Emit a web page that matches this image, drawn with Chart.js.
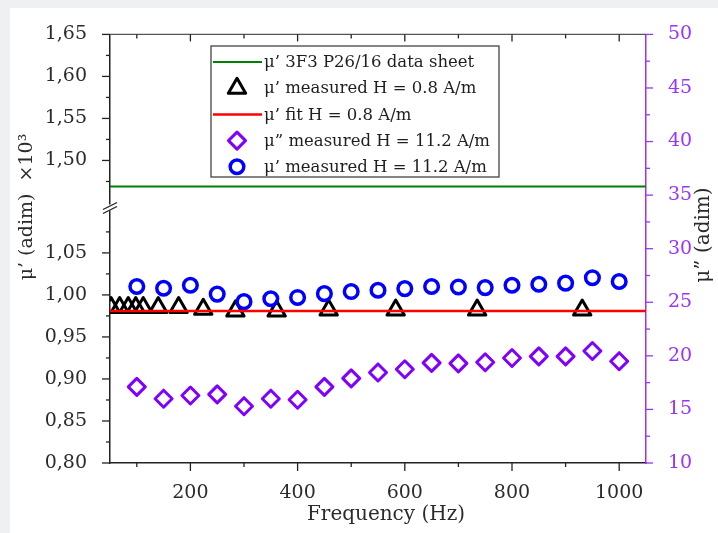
<!DOCTYPE html>
<html><head><meta charset="utf-8">
<script src="https://cdn.jsdelivr.net/npm/chart.js@4/dist/chart.umd.min.js"></script>
<style>
html,body{margin:0;padding:0;background:#fff;width:718px;height:533px;overflow:hidden}
#gl{position:absolute;left:0;top:0;width:10px;height:100%;background:#eff0f2}
#gt{position:absolute;left:0;top:0;width:100%;height:8px;background:#eff0f2}
#wrap{position:absolute;left:10px;top:8px;width:708px;height:525px;background:#fff}
canvas{display:block}
</style></head><body>
<div id="gl"></div><div id="gt"></div>
<div id="wrap"><canvas id="c" width="708" height="525"></canvas></div>
<script>
// ---- data ----
const freqH08 = [52, 68, 84, 98, 112, 140, 178, 224, 284, 361, 458, 583, 735, 931];
const muPrimeH08 = [0.985, 0.985, 0.985, 0.985, 0.985, 0.985, 0.985, 0.983, 0.981, 0.981, 0.982, 0.982, 0.982, 0.982];
const freqH112 = [100, 150, 200, 250, 300, 350, 400, 450, 500, 550, 600, 650, 700, 750, 800, 850, 900, 950, 1000];
const muPrimeH112 = [1.010, 1.008, 1.0115, 1.001, 0.992, 0.9955, 0.997, 1.0015, 1.004, 1.0055, 1.0075, 1.010, 1.0095, 1.0087, 1.0115, 1.0127, 1.014, 1.0205, 1.016];
const muSecondH112 = [17.1, 16.0, 16.3, 16.4, 15.3, 16.0, 15.9, 17.1, 17.9, 18.45, 18.75, 19.35, 19.3, 19.4, 19.8, 19.95, 19.95, 20.45, 19.5];
const sheetFreq = [50, 1050];
const sheetMu = [1.469, 1.469];
const fitFreq = [50, 1050];
const fitMu = [0.981, 0.981];
const xTickLabels = [200, 400, 600, 800, 1000];
const xMinorTicks = [100, 300, 500, 700, 900];
const yLeftTicks = [0.80, 0.85, 0.90, 0.95, 1.00, 1.05, 1.50, 1.55, 1.60, 1.65];
const yLeftMinor = [0.825, 0.875, 0.925, 0.975, 1.025, 1.075, 1.475, 1.525, 1.575, 1.625];
const yRightTicks = [10, 15, 20, 25, 30, 35, 40, 45, 50];
const yRightMinor = [12.5, 17.5, 22.5, 27.5, 32.5, 37.5, 42.5, 47.5];

// broken left axis: values above 1.10 are shifted down by 0.34
const BREAK_LO = 1.10, BREAK_SHIFT = 0.34;
const toAxis = v => v > BREAK_LO + 0.001 ? v - BREAK_SHIFT : v;
const fromAxis = a => a > BREAK_LO + 0.005 ? a + BREAK_SHIFT : a;
const pts = (xs, ys, f) => xs.map((x, i) => ({x: x, y: f ? f(ys[i]) : ys[i]}));

const AXIS = '#222', TXT = '#2b2b2b', PURPLE = '#9933ff';
const FONT = 'DejaVu Serif';
Chart.defaults.font.family = FONT;

const overlay = {
  id: 'overlay',
  beforeDatasetsDraw(chart) { chart.ctx.save(); chart.ctx.lineJoin = 'round'; },
  afterDatasetsDraw(chart) { chart.ctx.restore(); },
  afterDraw(chart) {
    const ctx = chart.ctx, a = chart.chartArea;
    const sx = chart.scales.x, yl = chart.scales.y, yr = chart.scales.y2;
    const seg = (x1, y1, x2, y2) => { ctx.beginPath(); ctx.moveTo(x1, y1); ctx.lineTo(x2, y2); ctx.stroke(); };
    ctx.save();
    // top frame line
    ctx.strokeStyle = '#555'; ctx.lineWidth = 1.4;
    seg(a.left, a.top, a.right, a.top);
    // x ticks bottom (outward) and top (inward)
    ctx.strokeStyle = AXIS; ctx.lineWidth = 1.3;
    xTickLabels.forEach(v => { const p = sx.getPixelForValue(v); seg(p, a.bottom, p, a.bottom + 8); seg(p, a.top, p, a.top + 7); });
    xMinorTicks.forEach(v => { const p = sx.getPixelForValue(v); seg(p, a.bottom, p, a.bottom + 4); seg(p, a.top, p, a.top + 4); });
    // left ticks
    yLeftTicks.forEach(v => { const p = yl.getPixelForValue(toAxis(v)); seg(a.left - 8, p, a.left, p); });
    yLeftMinor.forEach(v => { const p = yl.getPixelForValue(toAxis(v)); seg(a.left - 4, p, a.left, p); });
    // right ticks
    ctx.strokeStyle = PURPLE;
    yRightTicks.forEach(v => { const p = yr.getPixelForValue(v); seg(a.right, p, a.right + 7, p); });
    yRightMinor.forEach(v => { const p = yr.getPixelForValue(v); seg(a.right, p, a.right + 4, p); });
    // axis break marks
    const bp = yl.getPixelForValue(BREAK_LO + 0.004);
    ctx.fillStyle = '#fff';
    ctx.fillRect(a.left - 3, bp - 3, 6, 6);
    ctx.strokeStyle = AXIS; ctx.lineWidth = 1.3;
    seg(a.left - 7, bp + 2, a.left + 7, bp - 5);
    seg(a.left - 7, bp + 6, a.left + 7, bp - 1);
    // titles
    ctx.textAlign = 'center'; ctx.textBaseline = 'middle';
    ctx.fillStyle = TXT;
    ctx.font = '20px "' + FONT + '"';
    ctx.fillText('Frequency (Hz)', 376, 507);
    ctx.save(); ctx.translate(17, 199); ctx.rotate(-Math.PI / 2);
    ctx.font = '19px "' + FONT + '"';
    ctx.fillText('μ’ (adim)  ×10³', 0, 0); ctx.restore();
    ctx.save(); ctx.translate(694, 227); ctx.rotate(-Math.PI / 2);
    ctx.font = '20px "' + FONT + '"';
    ctx.fillText('μ” (adim)', 0, 0); ctx.restore();
    // legend
    const lx = 201, ly = 38, lw = 288, lh = 131;
    ctx.fillStyle = '#fff'; ctx.fillRect(lx, ly, lw, lh);
    ctx.strokeStyle = '#444'; ctx.lineWidth = 1.3; ctx.strokeRect(lx, ly, lw, lh);
    ctx.font = '16.5px "' + FONT + '"'; ctx.textAlign = 'left';
    ctx.lineJoin = 'round';
    chart.data.datasets.forEach((ds, i) => {
      const yy = 54 + i * 26.2;
      if (ds.showLine) {
        ctx.strokeStyle = ds.borderColor; ctx.lineWidth = ds.borderWidth;
        seg(203, yy, 252, yy);
      } else {
        ctx.strokeStyle = ds.pointBorderColor; ctx.lineWidth = ds.pointBorderWidth;
        ctx.fillStyle = 'rgba(0,0,0,0)';
        Chart.helpers.drawPoint(ctx, {pointStyle: ds.pointStyle, radius: ds.pointRadius, borderWidth: ds.pointBorderWidth, rotation: 0}, 227, yy);
      }
      ctx.fillStyle = '#1e1e1e';
      ctx.fillText(ds.label, 254, yy + 1);
    });
    ctx.restore();
  }
};

new Chart(document.getElementById('c'), {
  type: 'scatter',
  data: {
    datasets: [
      {label: 'μ’ 3F3 P26/16 data sheet', data: pts(sheetFreq, sheetMu, toAxis), yAxisID: 'y', showLine: true, pointRadius: 0, borderColor: '#008000', borderWidth: 2, order: 1},
      {label: 'μ’ measured H = 0.8 A/m', data: pts(freqH08, muPrimeH08, toAxis), yAxisID: 'y', showLine: false, pointStyle: 'triangle', pointRadius: 10, pointBorderWidth: 3, pointBorderColor: '#000', pointBackgroundColor: 'rgba(0,0,0,0)', clip: {left: 0, right: false, top: false, bottom: false}, order: 2},
      {label: 'μ’ fit H = 0.8 A/m', data: pts(fitFreq, fitMu, toAxis), yAxisID: 'y', showLine: true, pointRadius: 0, borderColor: '#ff0000', borderWidth: 2.5, order: 0},
      {label: 'μ” measured H = 11.2 A/m', data: pts(freqH112, muSecondH112), yAxisID: 'y2', showLine: false, pointStyle: 'rectRot', pointRadius: 8.5, pointBorderWidth: 3, pointBorderColor: '#8000ff', pointBackgroundColor: 'rgba(0,0,0,0)', order: 1},
      {label: 'μ’ measured H = 11.2 A/m', data: pts(freqH112, muPrimeH112, toAxis), yAxisID: 'y', showLine: false, pointStyle: 'circle', pointRadius: 6.8, pointBorderWidth: 3.5, pointBorderColor: '#0000ff', pointBackgroundColor: 'rgba(0,0,0,0)', order: 1}
    ]
  },
  options: {
    responsive: false, animation: false,
    layout: {padding: {top: 25, left: 0, right: 0, bottom: 0}},
    plugins: {legend: {display: false}, tooltip: {enabled: false}},
    elements: {point: {hoverRadius: 0}},
    scales: {
      x: {
        type: 'linear', position: 'bottom', min: 50, max: 1050,
        grid: {display: false}, border: {display: true, color: AXIS, width: 1.5},
        afterBuildTicks: s => { s.ticks = xTickLabels.map(v => ({value: v})); },
        afterFit: s => { s.height = 70; },
        ticks: {color: TXT, font: {size: 19}, padding: 11, maxRotation: 0, callback: v => String(v)}
      },
      y: {
        type: 'linear', position: 'left', min: 0.80, max: toAxis(1.65),
        grid: {display: false}, border: {display: true, color: AXIS, width: 1.5},
        afterBuildTicks: s => { s.ticks = yLeftTicks.map(v => ({value: toAxis(v)})); },
        afterFit: s => { s.width = 100; },
        ticks: {color: TXT, font: {size: 19}, padding: 15, callback: v => fromAxis(v).toFixed(2).replace('.', ',')}
      },
      y2: {
        type: 'linear', position: 'right', min: 10, max: 50,
        grid: {display: false}, border: {display: true, color: PURPLE, width: 1.5},
        afterBuildTicks: s => { s.ticks = yRightTicks.map(v => ({value: v})); },
        afterFit: s => { s.width = 72; },
        ticks: {color: PURPLE, font: {size: 19}, padding: 14, callback: v => String(v)}
      }
    }
  },
  plugins: [overlay]
});
</script>
</body></html>
